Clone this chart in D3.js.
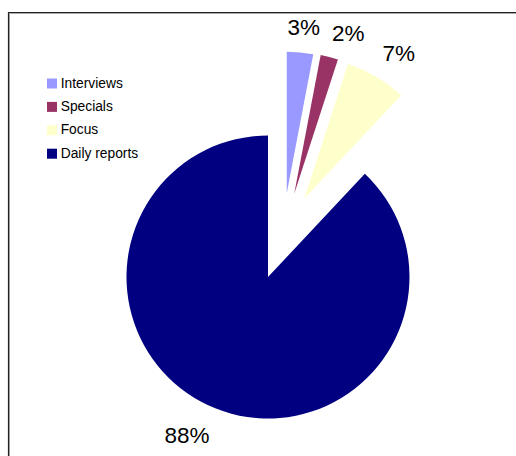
<!DOCTYPE html>
<html>
<head>
<meta charset="utf-8">
<script src="https://cdn.jsdelivr.net/npm/d3@7"></script>
<style>
  html, body { margin: 0; padding: 0; background: #fff; }
  svg { display: block; }
</style>
</head>
<body>
<script>
// Share of output by type (percent)
const categories = ["Interviews", "Specials", "Focus", "Daily reports"];
const shares = [3, 2, 7, 88];
const labels = ["3%", "2%", "7%", "88%"];
const colors = ["#9999FF", "#993366", "#FFFFCC", "#000080"];

const W = 516, H = 456;
const cx = 268, cy = 277, R = 141.5;

// Detached slices: direction (degrees clockwise from 12 o'clock) and distance in px
const explode = {
  "Interviews":    { a: 12.6, d: 85.9 },
  "Specials":      { a: 17.5, d: 87.0 },
  "Focus":         { a: 24.8, d: 86.5 },
  "Daily reports": { a: 0,    d: 0 }
};
// Percentage label placement relative to each slice's apex
const labelPlace = {
  "Interviews":    { a: 5.9,   d: 166.6 },
  "Specials":      { a: 18.6,  d: 169.4 },
  "Focus":         { a: 33.1,  d: 173.1 },
  "Daily reports": { a: 207.2, d: 177.1 }
};

const rad = Math.PI / 180;
const polar = (a, d) => [d * Math.sin(a * rad), -d * Math.cos(a * rad)];

const color = d3.scaleOrdinal().domain(categories).range(colors);

const svg = d3.select("body").append("svg")
  .attr("width", W).attr("height", H);

// Chart frame (top and left edges with a soft shadow)
svg.append("path")
  .attr("d", `M9.5,${H} V13.5 H${W}`)
  .attr("fill", "none").attr("stroke", "#aaa").attr("stroke-width", 1);
svg.append("path")
  .attr("d", `M8.5,${H} V12.5 H${W}`)
  .attr("fill", "none").attr("stroke", "#222").attr("stroke-width", 1.2);

const data = categories.map((c, i) => ({ cat: c, value: shares[i], label: labels[i] }));

const pie = d3.pie().sort(null).value(d => d.value).startAngle(0).endAngle(2 * Math.PI);
const arc = d3.arc().innerRadius(0).outerRadius(R);
const arcs = pie(data);

const g = svg.append("g").attr("transform", `translate(${cx},${cy})`);

const slice = g.selectAll("g.slice").data(arcs).enter().append("g")
  .attr("class", "slice")
  .attr("transform", d => {
    const e = explode[d.data.cat];
    const [x, y] = polar(e.a, e.d);
    return `translate(${x},${y})`;
  });

slice.append("path")
  .attr("d", arc)
  .attr("fill", d => color(d.data.cat));

slice.append("text")
  .attr("x", d => polar(labelPlace[d.data.cat].a, labelPlace[d.data.cat].d)[0])
  .attr("y", d => polar(labelPlace[d.data.cat].a, labelPlace[d.data.cat].d)[1] + 8)
  .attr("text-anchor", "middle")
  .attr("font-family", "'Liberation Sans', Arial, sans-serif")
  .attr("font-size", 22.5)
  .attr("fill", "#000")
  .text(d => d.data.label);

// Legend
const legend = svg.append("g").attr("transform", "translate(47,78.5)");
const item = legend.selectAll("g").data(categories).enter().append("g")
  .attr("transform", (d, i) => `translate(0,${i * 23.4})`);
item.append("rect")
  .attr("width", 10).attr("height", 10)
  .attr("fill", d => color(d));
item.append("text")
  .attr("x", 13.7).attr("y", 9)
  .attr("font-family", "'Liberation Sans', Arial, sans-serif")
  .attr("font-size", 13.8)
  .attr("fill", "#000")
  .text(d => d);
</script>
</body>
</html>
